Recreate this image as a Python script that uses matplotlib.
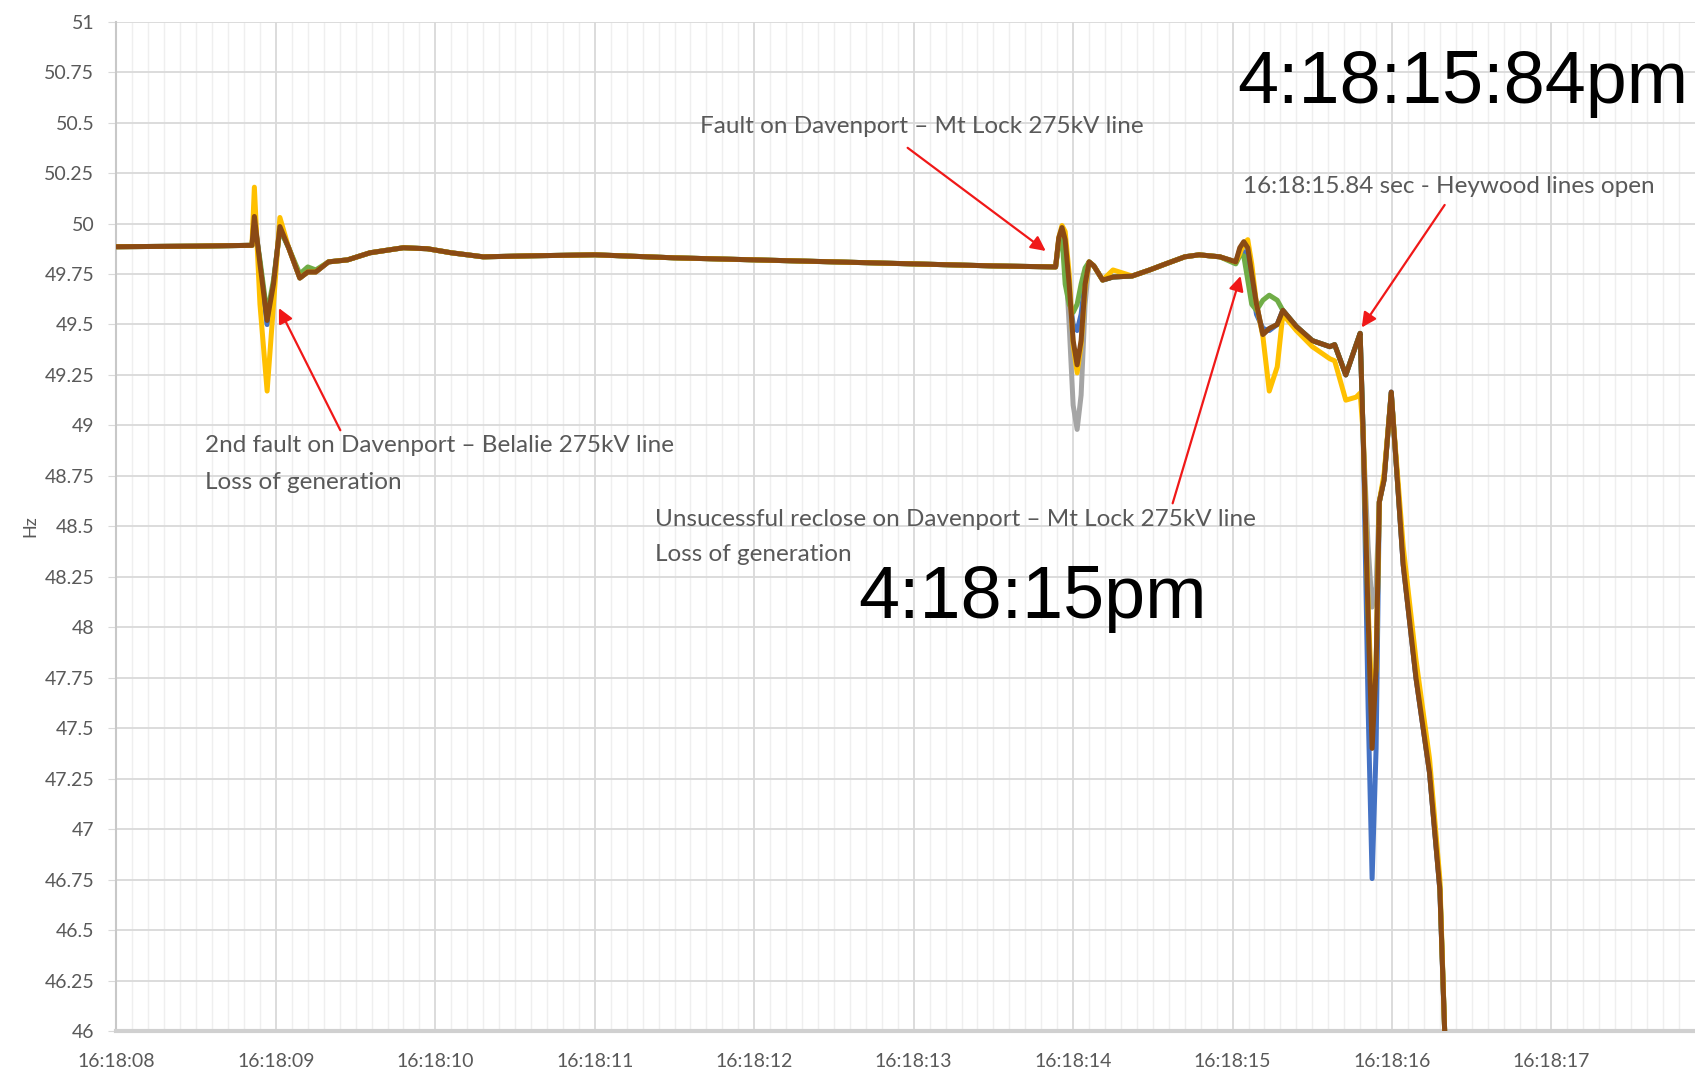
import matplotlib
matplotlib.use("Agg")
import matplotlib.pyplot as plt
import numpy as np

# seconds after 16:18:00
t_sec = [8.00, 8.50, 8.85,
         8.865, 8.90, 8.945, 8.985, 9.025, 9.08, 9.15, 9.20, 9.25, 9.33,
         9.45, 9.59, 9.80, 9.95, 10.10, 10.30, 10.60, 11.00, 11.50, 12.00, 12.50, 13.00, 13.50, 13.89,
         13.91, 13.93, 13.95, 13.975, 14.00, 14.025, 14.05, 14.075, 14.10, 14.13, 14.185, 14.25,
         14.37, 14.48, 14.58, 14.70, 14.79, 14.92, 15.02,
         15.045, 15.07, 15.095, 15.12, 15.15, 15.19, 15.23, 15.28, 15.315, 15.40, 15.50, 15.61, 15.64, 15.71, 15.775, 15.80,
         15.82, 15.85, 15.875, 15.90, 15.92, 15.95, 15.995, 16.07, 16.15, 16.235, 16.30, 16.33]

hz_brown = [49.885, 49.888, 49.892,
            50.035, 49.80, 49.52, 49.70, 49.985, 49.88, 49.73, 49.76, 49.76, 49.81,
            49.82, 49.855, 49.88, 49.875, 49.855, 49.835, 49.84, 49.845, 49.83, 49.82, 49.81, 49.80, 49.79, 49.785,
            49.93, 49.98, 49.92, 49.70, 49.42, 49.30, 49.42, 49.70, 49.81, 49.79, 49.72, 49.735,
            49.74, 49.77, 49.80, 49.835, 49.845, 49.835, 49.81,
            49.88, 49.91, 49.88, 49.75, 49.60, 49.45, 49.48, 49.50, 49.57, 49.49, 49.42, 49.39, 49.40, 49.25, 49.40, 49.456,
            48.92, 48.05, 47.40, 47.80, 48.62, 48.73, 49.165, 48.31, 47.75, 47.28, 46.70, 46.00]

hz_yellow = [49.885, 49.888, 49.892,
             50.18, 49.60, 49.17, 49.60, 50.03, 49.88, 49.73, 49.76, 49.76, 49.81,
             49.82, 49.855, 49.88, 49.875, 49.855, 49.835, 49.84, 49.845, 49.83, 49.82, 49.81, 49.80, 49.79, 49.785,
             49.93, 49.99, 49.96, 49.75, 49.40, 49.26, 49.40, 49.68, 49.81, 49.79, 49.72, 49.77,
             49.74, 49.77, 49.80, 49.835, 49.845, 49.835, 49.81,
             49.85, 49.90, 49.92, 49.80, 49.60, 49.44, 49.17, 49.29, 49.55, 49.47, 49.39, 49.33, 49.32, 49.125, 49.14, 49.16,
             48.95, 48.10, 47.60, 47.80, 48.62, 48.76, 49.15, 48.40, 47.84, 47.35, 46.75, 46.00]

hz_grey = [49.885, 49.888, 49.892,
           50.03, 49.80, 49.50, 49.70, 49.98, 49.88, 49.73, 49.76, 49.76, 49.81,
           49.82, 49.855, 49.88, 49.875, 49.855, 49.835, 49.84, 49.845, 49.83, 49.82, 49.81, 49.80, 49.79, 49.785,
           49.92, 49.97, 49.85, 49.50, 49.10, 48.98, 49.15, 49.60, 49.81, 49.79, 49.72, 49.735,
           49.74, 49.77, 49.80, 49.835, 49.845, 49.835, 49.81,
           49.87, 49.90, 49.87, 49.74, 49.60, 49.45, 49.48, 49.50, 49.57, 49.49, 49.42, 49.39, 49.40, 49.25, 49.40, 49.456,
           48.92, 48.40, 48.10, 48.20, 48.62, 48.73, 49.165, 48.31, 47.75, 47.28, 46.70, 46.00]

hz_blue = [49.885, 49.888, 49.892,
           50.02, 49.80, 49.50, 49.70, 49.98, 49.88, 49.73, 49.76, 49.76, 49.81,
           49.82, 49.855, 49.88, 49.875, 49.855, 49.835, 49.84, 49.845, 49.83, 49.82, 49.81, 49.80, 49.79, 49.785,
           49.92, 49.96, 49.82, 49.65, 49.50, 49.47, 49.55, 49.72, 49.81, 49.79, 49.72, 49.735,
           49.74, 49.77, 49.80, 49.835, 49.845, 49.835, 49.81,
           49.86, 49.86, 49.82, 49.70, 49.55, 49.48, 49.47, 49.50, 49.57, 49.49, 49.42, 49.39, 49.40, 49.25, 49.40, 49.456,
           48.92, 47.60, 46.755, 47.40, 48.62, 48.73, 49.165, 48.31, 47.75, 47.28, 46.70, 46.00]

hz_green = [49.885, 49.888, 49.892,
            50.00, 49.82, 49.55, 49.72, 49.97, 49.88, 49.75, 49.785, 49.77, 49.81,
            49.82, 49.855, 49.88, 49.875, 49.855, 49.835, 49.84, 49.845, 49.83, 49.82, 49.81, 49.80, 49.79, 49.785,
            49.90, 49.94, 49.70, 49.60, 49.56, 49.60, 49.70, 49.78, 49.81, 49.79, 49.72, 49.735,
            49.74, 49.77, 49.80, 49.835, 49.845, 49.835, 49.80,
            49.84, 49.84, 49.72, 49.60, 49.57, 49.62, 49.645, 49.62, 49.57, 49.49, 49.42, 49.39, 49.40, 49.25, 49.40, 49.456,
            48.92, 48.05, 47.50, 47.80, 48.62, 48.74, 49.16, 48.33, 47.77, 47.30, 46.72, 46.00]

x_ticks = [8, 9, 10, 11, 12, 13, 14, 15, 16, 17]
x_labels = ["16:18:08", "16:18:09", "16:18:10", "16:18:11", "16:18:12",
            "16:18:13", "16:18:14", "16:18:15", "16:18:16", "16:18:17"]
y_ticks = np.arange(46, 51.01, 0.25)

fig = plt.figure(figsize=(16.95, 10.77), dpi=100)
ax = fig.add_axes([0.0687, 0.0427, 0.9313, 0.9372])

series = [(hz_grey, "#A5A5A5"), (hz_blue, "#4472C4"), (hz_green, "#70AD47"),
          (hz_yellow, "#FFC000"), (hz_brown, "#8A4A14")]
for vals, col in series:
    ax.plot(t_sec, vals, color=col, lw=3.6, solid_joinstyle="round",
            solid_capstyle="round", zorder=3)

ax.set_xlim(8, 17.9)
ax.set_ylim(46, 51)
ax.set_xticks(x_ticks)
ax.set_xticklabels(x_labels)
ax.set_xticks(np.arange(8, 17.9, 0.1), minor=True)
ax.set_yticks(y_ticks)
ax.set_yticklabels(["{:g}".format(v) for v in y_ticks])

ax.grid(which="major", color="#D9D9D9", lw=1.3)
ax.grid(which="minor", axis="x", color="#EFEFEF", lw=1.0)
ax.set_axisbelow(True)
for s in ["top", "right"]:
    ax.spines[s].set_visible(False)
ax.spines["left"].set_color("#C8C8C8")
ax.spines["left"].set_linewidth(1.5)
ax.spines["bottom"].set_color("#D0D0D0")
ax.spines["bottom"].set_linewidth(3)

for lab in ax.get_xticklabels() + ax.get_yticklabels():
    lab.set_fontfamily("Lato")
    lab.set_fontsize(14)
    lab.set_color("#595959")
ax.tick_params(axis="y", which="major", length=6, color="#D9D9D9", pad=10)
ax.tick_params(axis="x", which="major", length=0, pad=16)
ax.tick_params(axis="x", which="minor", length=0)

ax.set_ylabel("Hz", fontdict=dict(family="Lato", size=13, color="#595959"), labelpad=4)

note = dict(family="Lato", size=17.5, color="#595959", va="center", ha="left")
ax.text(11.66, 50.482, "Fault on Davenport \u2013 Mt Lock 275kV line", **note)
ax.text(15.063, 50.182, "16:18:15.84 sec - Heywood lines open", **note)
ax.text(8.557, 48.90, "2nd fault on Davenport \u2013 Belalie 275kV line", **note)
ax.text(8.557, 48.718, "Loss of generation", **note)
ax.text(11.376, 48.535, "Unsucessful reclose on Davenport \u2013 Mt Lock 275kV line", **note)
ax.text(11.376, 48.358, "Loss of generation", **note)

big = dict(family="Liberation Sans", size=53, color="black", va="center", ha="left")
ax.text(12.655, 48.144, "4:18:15pm", **big)
ax.text(15.03, 50.692, "4:18:15:84pm", **big)

arrow = dict(arrowstyle="-|>", color="#F01818", lw=1.6, mutation_scale=22,
             shrinkA=0, shrinkB=0)
arrows = [((9.404, 48.976), (9.019, 49.581)),
          ((12.962, 50.375), (13.828, 49.864)),
          ((14.624, 48.614), (15.050, 49.740)),
          ((16.330, 50.092), (15.810, 49.485))]
for tail, head in arrows:
    ax.annotate("", xy=head, xytext=tail, arrowprops=arrow, zorder=5)

fig.savefig("out.png", dpi=100)
